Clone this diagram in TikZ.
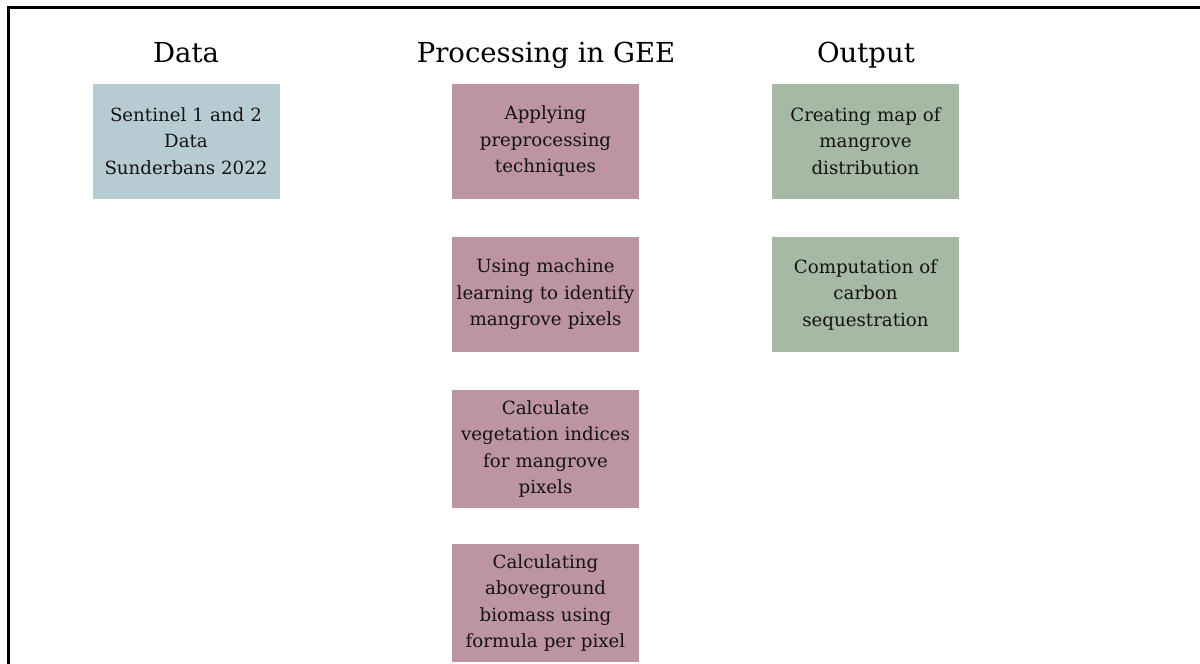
\documentclass[tikz,border=0pt]{standalone}
\usepackage{fontspec}
\setmainfont{DejaVu Serif}
\definecolor{databox}{RGB}{183,204,210}
\definecolor{procbox}{RGB}{188,149,161}
\definecolor{outbox}{RGB}{166,185,165}
\definecolor{boxtext}{RGB}{20,18,19}
\tikzset{
  heading/.style={anchor=base, inner sep=0, font=\fontsize{27.5}{33}\selectfont, text=black},
  stepbox/.style={rectangle, minimum width=187pt, minimum height=115pt, inner sep=0,
    text width=184pt, align=center, text=boxtext,
    font=\fontsize{18.2}{26.5}\selectfont},
}
\begin{document}
\begin{tikzpicture}[x=1pt,y=-1pt]
\useasboundingbox (0,0) rectangle (1200,664);
\clip (0,0) rectangle (1200,664);
\draw[line width=3pt] (8,680) -- (8,7.5) -- (1220,7.5);

\node[heading] (hdata) at (186,62) {Data};
\node[heading] (hproc) at (546,62) {Processing in GEE};
\node[heading] (hout) at (866,62) {Output};

\node[stepbox, fill=databox] (data) at (186,141) {Sentinel 1 and 2\\Data\\Sunderbans 2022};

\node[stepbox, fill=procbox] (p1) at (545.5,141) {Applying\\preprocessing\\techniques};
\node[stepbox, fill=procbox] (p2) at (545.5,294.5) {Using machine\\learning to identify\\mangrove pixels};
\node[stepbox, fill=procbox, minimum height=118pt] (p3) at (545.5,449) {Calculate\\vegetation indices\\for mangrove\\pixels};
\node[stepbox, fill=procbox, minimum height=118pt] (p4) at (545.5,603) {Calculating\\aboveground\\biomass using\\formula per pixel};

\node[stepbox, fill=outbox] (o1) at (865.5,141) {Creating map of\\mangrove\\distribution};
\node[stepbox, fill=outbox] (o2) at (865.5,294.5) {Computation of\\carbon\\sequestration};
\end{tikzpicture}
\end{document}
